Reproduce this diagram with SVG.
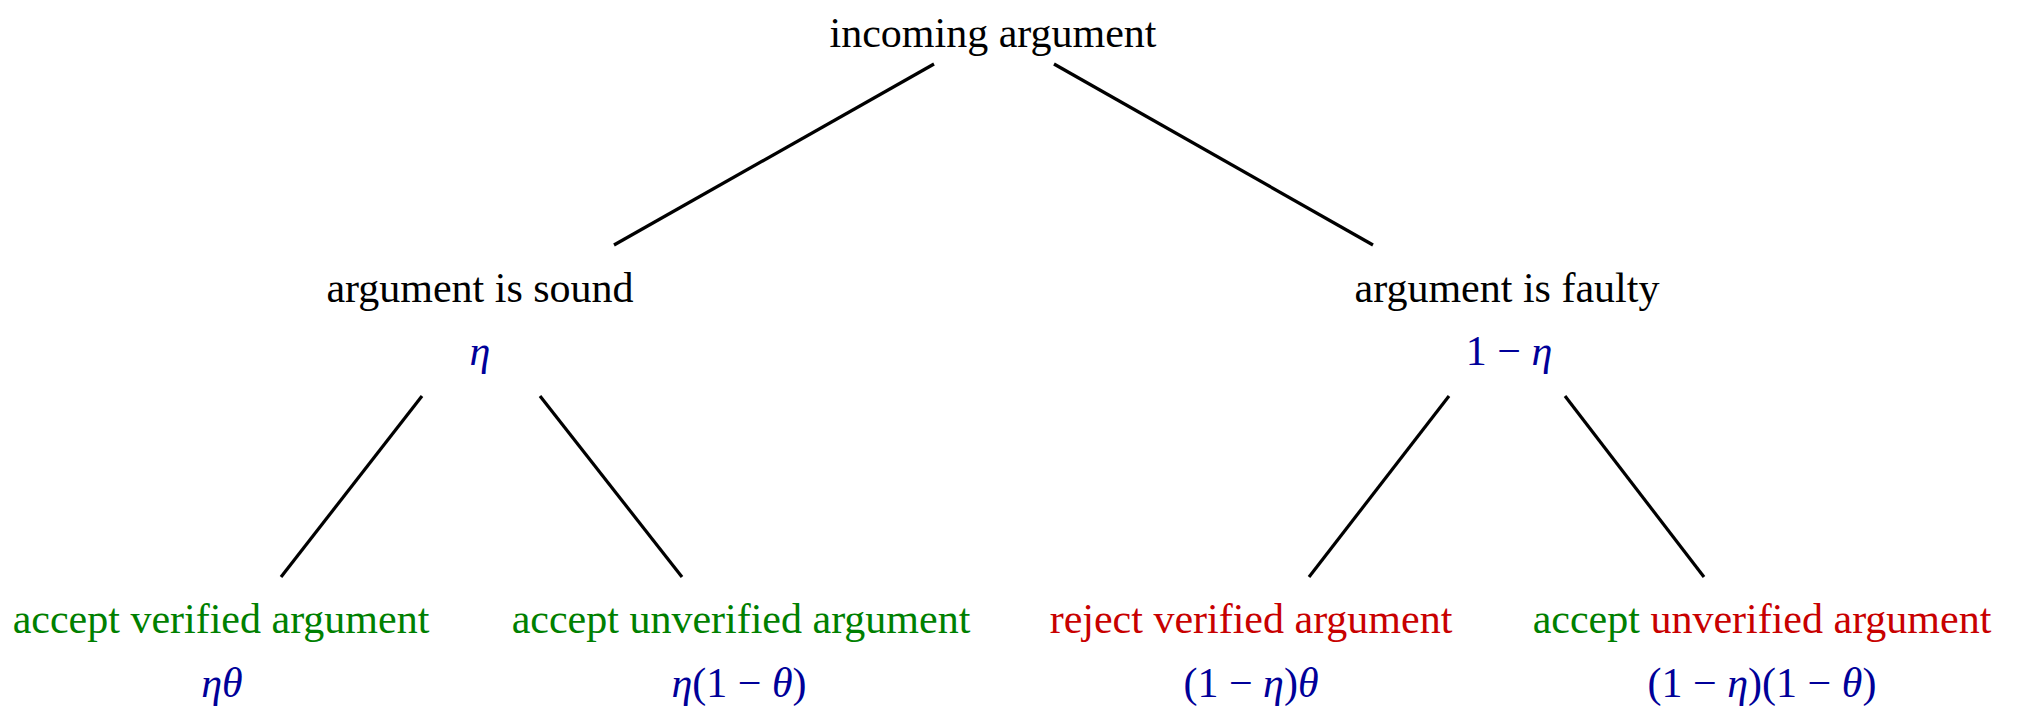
<svg xmlns="http://www.w3.org/2000/svg" width="2018" height="707" viewBox="0 0 2018 707">
<style>
text{font-family:"Liberation Serif","Times New Roman",serif;font-size:42px;text-anchor:middle}
.k{fill:#000}
.g{fill:#008000}
.r{fill:#c80000}
.b{fill:#000099}
.i{font-style:italic}
.e line{stroke:#000;stroke-width:3.2;stroke-linecap:butt}
</style>
<rect width="2018" height="707" fill="#fff"/>
<g id="connectors" class="e">
<line x1="934" y1="64" x2="614" y2="245"/>
<line x1="1054" y1="64" x2="1373" y2="245"/>
<line x1="422" y1="396" x2="281" y2="577"/>
<line x1="540" y1="396" x2="682" y2="577"/>
<line x1="1449" y1="396" x2="1309" y2="577"/>
<line x1="1565" y1="396" x2="1704" y2="577"/>
</g>
<g id="root"><text class="k" x="993" y="47">incoming argument</text></g>
<g id="sound">
<text class="k" x="480" y="302">argument is sound</text>
<text class="b i" x="480" y="365">η</text>
</g>
<g id="faulty">
<text class="k" x="1507" y="302">argument is faulty</text>
<text class="b" x="1509" y="365">1 − <tspan class="i">η</tspan></text>
</g>
<g id="leaf1">
<text class="g" x="221" y="633">accept verified argument</text>
<text class="b i" x="222" y="697">ηθ</text>
</g>
<g id="leaf2">
<text class="g" x="741" y="633">accept unverified argument</text>
<text class="b" x="739" y="697"><tspan class="i">η</tspan>(1 − <tspan class="i">θ</tspan>)</text>
</g>
<g id="leaf3">
<text class="r" x="1251" y="633">reject verified argument</text>
<text class="b" x="1251" y="697">(1 − <tspan class="i">η</tspan>)<tspan class="i">θ</tspan></text>
</g>
<g id="leaf4">
<text x="1762" y="633"><tspan class="g">accept</tspan><tspan class="r"> unverified argument</tspan></text>
<text class="b" x="1762" y="697">(1 − <tspan class="i">η</tspan>)(1 − <tspan class="i">θ</tspan>)</text>
</g>
</svg>
